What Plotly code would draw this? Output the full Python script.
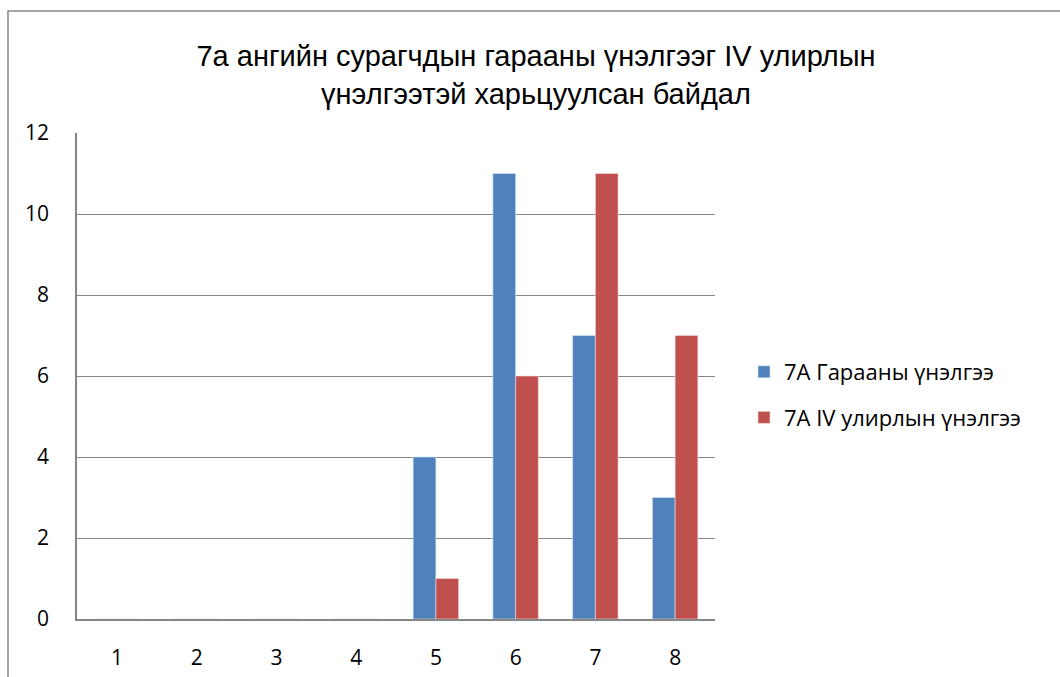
import plotly.graph_objects as go

categories = ["1", "2", "3", "4", "5", "6", "7", "8"]
series_start = [0, 0, 0, 0, 4, 11, 7, 3]
series_q4 = [0, 0, 0, 0, 1, 6, 11, 7]
name_start = "7A Гарааны үнэлгээ"
name_q4 = "7A IV улирлын үнэлгээ"
title_text = "7а ангийн сурагчдын гарааны үнэлгээг IV улирлын<br>үнэлгээтэй харьцуулсан байдал"

fig = go.Figure()
fig.add_trace(go.Bar(x=categories, y=series_start, name=name_start,
                     marker=dict(color="#4F81BD", line=dict(color="#DCE6F2", width=0.6)),
                     legendgroup="a"))
fig.add_trace(go.Bar(x=categories, y=series_q4, name=name_q4,
                     marker=dict(color="#C0504D", line=dict(color="#F2DCDB", width=0.6)),
                     legendgroup="b"))

L, R, T, B = 77, 345, 133, 58
W, H = 1060, 677
pw = W - L - R
ph = H - T - B

fig.update_layout(
    width=W, height=H,
    margin=dict(l=L, r=R, t=T, b=B, pad=0, autoexpand=False),
    paper_bgcolor="white", plot_bgcolor="white",
    barmode="group", bargap=0.43, bargroupgap=0,
    title=dict(text=title_text, x=536 / W, xanchor="center", y=1 - 66 / H, yanchor="middle",
               font=dict(family="Liberation Sans, Arial", size=29, color="#000000")),
    font=dict(family="Open Sans, Calibri, sans-serif", size=21, color="#000000"),
    legend=dict(x=(744 - L) / pw, xanchor="left", y=(H - B - 395) / ph, yanchor="middle",
                font=dict(family="Open Sans, Calibri, sans-serif", size=22, color="#000000"),
                tracegroupgap=14, itemwidth=30, bgcolor="rgba(0,0,0,0)"),
    showlegend=True,
    xaxis=dict(showgrid=False, showline=True, linecolor="#868686", linewidth=1.5,
               ticks="", ticklabelstandoff=19, tickfont=dict(size=21)),
    yaxis=dict(range=[0, 12], dtick=2, showgrid=True, gridcolor="#868686", gridwidth=1.2,
               showline=True, linecolor="#868686", linewidth=1.5, zeroline=False,
               ticks="", ticklabelstandoff=22, tickfont=dict(size=21)),
    shapes=[dict(type="rect", xref="paper", yref="paper",
                 x0=(8 - L) / pw, x1=1.8, y0=-0.5, y1=(H - B - 11) / ph,
                 line=dict(color="#868686", width=1.5), fillcolor="rgba(0,0,0,0)", layer="below")],
)

fig.write_html("out.html", config={"displayModeBar": False},
               post_script="document.body.style.margin='0';document.body.style.overflow='hidden';")
